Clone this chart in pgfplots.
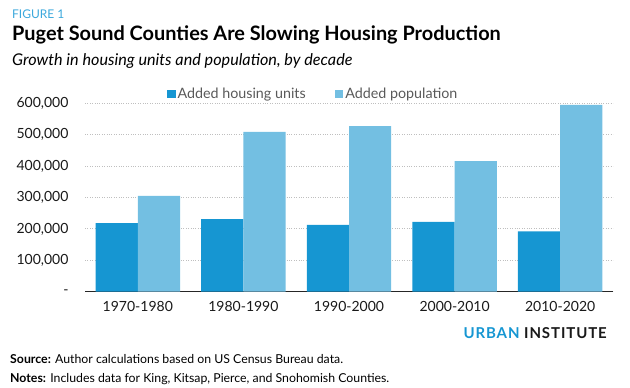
\documentclass[border=0pt]{standalone}
\usepackage{pgfplots}
\pgfplotsset{compat=1.18}
\usepackage{fontspec}
\setmainfont{Lato}
\definecolor{dark}{HTML}{1696D2}
\definecolor{light}{HTML}{73BFE2}
\definecolor{figblue}{HTML}{3BA8DC}
\begin{document}
\begin{tikzpicture}[x=1pt,y=1pt]
\useasboundingbox (0,0) rectangle (630,388);
% titles
\node[anchor=base west,inner sep=0pt,text=figblue] at (12,388-18.3) {\fontsize{12}{14}\selectfont FIGURE 1};
\node[anchor=base west,inner sep=0pt] at (12,388-40.7) {\fontsize{19.9}{24}\selectfont\bfseries Puget Sound Counties Are Slowing Housing Production};
\node[anchor=base west,inner sep=0pt] at (12,388-65.7) {\fontsize{16.2}{19}\selectfont\itshape Growth in housing units and population, by decade};
\begin{axis}[
  at={(85pt,96.3pt)}, anchor=south west,
  scale only axis, width=528pt, height=188.4pt,
  xmin=-0.5, xmax=4.5, ymin=0, ymax=600000,
  scaled y ticks=false,
  ybar, bar width=0.4,
  axis x line*=bottom, axis y line*=left,
  x axis line style={black!85, line width=1.4pt, -},
  y axis line style={draw=none},
  major tick length=0pt,
  xtick={0,1,2,3,4},
  xticklabels={1970-1980,1980-1990,1990-2000,2000-2010,2010-2020},
  ytick={0,100000,200000,300000,400000,500000,600000},
  yticklabels={-,{100,000},{200,000},{300,000},{400,000},{500,000},{600,000}},
  xticklabel style={font=\fontsize{14}{16}\selectfont, text=black!90, yshift=-6pt},
  yticklabel style={font=\fontsize{14}{16}\selectfont, text=black!90, xshift=-13pt},
  ymajorgrids, grid style={dotted, black!25, line width=1pt},
  legend columns=2,
  legend style={draw=none, fill=none, at={(0.155,1.049)}, anchor=west, inner sep=0pt,
    font=\fontsize{14.3}{16}\selectfont, text=black!65,
    /tikz/every even column/.append style={column sep=27pt}},
]
\addplot[fill=dark, draw=none, bar shift=-0.2, legend image code/.code={\fill[dark] (0pt,-4.2pt) rectangle (8.5pt,4.2pt);}]
  coordinates {(0,218000) (1,231500) (2,213000) (3,222000) (4,192000)};
\addplot[fill=light, draw=none, bar shift=0.2, legend image code/.code={\fill[light] (0pt,-4.2pt) rectangle (8.5pt,4.2pt);}]
  coordinates {(0,305000) (1,508600) (2,527700) (3,416000) (4,594600)};
\legend{Added housing units, Added population}
\end{axis}
% footer
\node[anchor=base east,inner sep=0pt] at (607,388-339) {\fontsize{15}{18}\selectfont\bfseries\addfontfeatures{LetterSpace=6}\textcolor{dark}{URBAN} \textcolor{black!90}{INSTITUTE}};
\node[anchor=base west,inner sep=0pt] at (10,388-363.3) {\fontsize{12.3}{15}\selectfont\textbf{Source:} Author calculations based on US Census Bureau data.};
\node[anchor=base west,inner sep=0pt] at (10,388-382.3) {\fontsize{12.3}{15}\selectfont\textbf{Notes:} Includes data for King, Kitsap, Pierce, and Snohomish Counties.};
\end{tikzpicture}
\end{document}
